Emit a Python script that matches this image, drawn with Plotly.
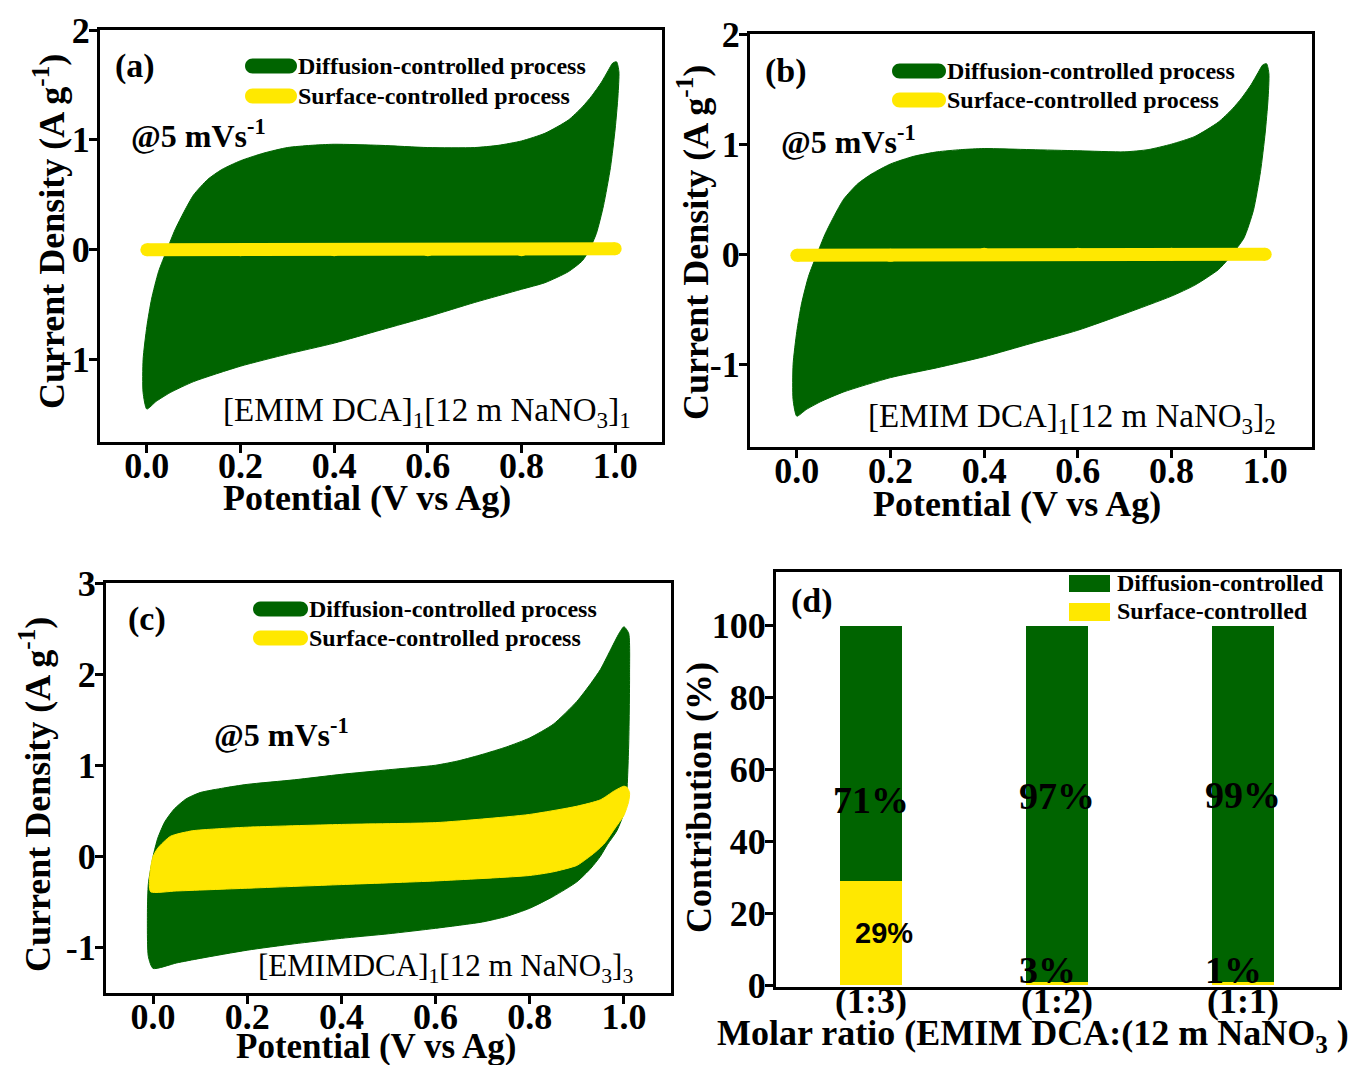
import plotly.graph_objects as go

W, H = 1360, 1065
SERIF = "Liberation Serif, Times New Roman, serif"
SANS = "Liberation Sans, Arial, sans-serif"
GREEN = "#006400"
YELLOW = "#FFE800"

# ---------------- data ----------------
# (a) [EMIM DCA]1[12 m NaNO3]1
a_diff_fwd_v = [0.0, -0.008, -0.008, 0.0, 0.01, 0.025, 0.043, 0.06, 0.08, 0.1, 0.13, 0.16, 0.2, 0.25, 0.3, 0.35, 0.4,
                0.5, 0.6, 0.7, 0.75, 0.8, 0.85, 0.9, 0.93, 0.95, 0.97, 0.985, 0.995, 1.003]
a_diff_fwd_i = [-1.45, -1.3, -1.0, -0.7, -0.45, -0.2, 0.0, 0.18, 0.35, 0.5, 0.64, 0.73, 0.81, 0.88, 0.93, 0.95, 0.96,
                0.95, 0.93, 0.93, 0.95, 0.99, 1.06, 1.18, 1.3, 1.4, 1.52, 1.63, 1.7, 1.71]
a_diff_rev_v = [1.008, 1.006, 1.0, 0.99, 0.975, 0.96, 0.945, 0.93, 0.9, 0.85, 0.8, 0.7, 0.6, 0.5, 0.4, 0.3, 0.2,
                0.1, 0.05, 0.02]
a_diff_rev_i = [1.62, 1.4, 1.1, 0.75, 0.4, 0.15, 0.0, -0.1, -0.2, -0.3, -0.36, -0.48, -0.61, -0.73, -0.85, -0.95,
                -1.06, -1.2, -1.3, -1.38]
a_surf_v = [0.0, 0.2, 0.4, 0.6, 0.8, 1.0]
a_surf_i = [0.0, 0.0, 0.0, 0.0, 0.0, 0.01]

# (b) [EMIM DCA]1[12 m NaNO3]2
b_diff_fwd_v = [0.0, -0.008, -0.008, 0.0, 0.01, 0.025, 0.043, 0.06, 0.08, 0.1, 0.13, 0.16, 0.2, 0.25, 0.3, 0.35, 0.4,
                0.5, 0.6, 0.7, 0.75, 0.8, 0.85, 0.9, 0.93, 0.95, 0.97, 0.985, 0.995, 1.003]
b_diff_fwd_i = [-1.47, -1.32, -1.0, -0.7, -0.45, -0.2, 0.0, 0.18, 0.35, 0.5, 0.64, 0.73, 0.82, 0.89, 0.93, 0.95, 0.96,
                0.95, 0.94, 0.93, 0.95, 1.0, 1.07, 1.2, 1.32, 1.42, 1.54, 1.65, 1.72, 1.73]
b_diff_rev_v = [1.008, 1.006, 1.0, 0.99, 0.975, 0.955, 0.935, 0.92, 0.9, 0.85, 0.8, 0.7, 0.6, 0.5, 0.4, 0.3, 0.2,
                0.1, 0.05, 0.02]
b_diff_rev_i = [1.64, 1.4, 1.1, 0.75, 0.4, 0.15, 0.03, -0.05, -0.14, -0.28, -0.38, -0.54, -0.69, -0.81, -0.93, -1.03,
                -1.12, -1.25, -1.34, -1.41]
b_surf_v = [0.0, 0.2, 0.4, 0.6, 0.8, 1.0]
b_surf_i = [-0.01, -0.01, 0.0, 0.0, 0.0, 0.0]

# (c) [EMIMDCA]1[12 m NaNO3]3
c_diff_fwd_v = [0.0, -0.01, -0.012, -0.01, 0.0, 0.01, 0.025, 0.045, 0.07, 0.1, 0.15, 0.2, 0.3, 0.4, 0.5, 0.6, 0.65,
                0.7, 0.75, 0.8, 0.85, 0.9, 0.93, 0.95, 0.97, 0.99, 1.0]
c_diff_fwd_i = [-1.23, -1.1, -0.6, -0.3, 0.0, 0.2, 0.38, 0.52, 0.63, 0.7, 0.75, 0.79, 0.84, 0.9, 0.95, 1.0, 1.05,
                1.12, 1.2, 1.3, 1.45, 1.7, 1.9, 2.05, 2.25, 2.45, 2.52]
c_diff_rev_v = [1.01, 1.012, 1.01, 1.003, 0.985, 0.965, 0.95, 0.93, 0.9, 0.85, 0.8, 0.75, 0.7, 0.6, 0.5, 0.4, 0.3,
                0.2, 0.1, 0.05]
c_diff_rev_i = [2.45, 2.0, 1.2, 0.53, 0.28, 0.13, 0.0, -0.13, -0.28, -0.44, -0.57, -0.66, -0.72, -0.79, -0.85, -0.9,
                -0.96, -1.03, -1.12, -1.17]
c_surf_fwd_v = [-0.005, -0.008, -0.005, 0.0, 0.01, 0.037, 0.083, 0.13, 0.2, 0.4, 0.6, 0.7, 0.8, 0.9, 0.95, 0.98, 1.0,
                1.006]
c_surf_fwd_i = [-0.39, -0.3, -0.12, 0.0, 0.09, 0.22, 0.28, 0.3, 0.32, 0.35, 0.37, 0.41, 0.46, 0.55, 0.62, 0.72, 0.77,
                0.76]
c_surf_rev_v = [1.012, 1.01, 1.0, 0.98, 0.96, 0.94, 0.92, 0.9, 0.85, 0.8, 0.6, 0.4, 0.2, 0.05]
c_surf_rev_i = [0.7, 0.6, 0.45, 0.3, 0.15, 0.05, -0.03, -0.1, -0.17, -0.21, -0.27, -0.31, -0.35, -0.38]

# (d) contribution bars
ratios = ["(1:3)", "(1:2)", "(1:1)"]
surface_pct = [29, 0.8, 0.8]
diffusion_pct = [71, 99.2, 99.2]
diffusion_labels = ["71%", "97%", "99%"]
surface_labels = ["29%", "3%", "1%"]

cv_ticks = [0.0, 0.2, 0.4, 0.6, 0.8, 1.0]
cv_ticktext = ["0.0", "0.2", "0.4", "0.6", "0.8", "1.0"]
ab_yticks = [-1, 0, 1, 2]
ab_yticktext = ["-1", "0", "1", "2"]
c_yticks = [-1, 0, 1, 2, 3]
c_yticktext = ["-1", "0", "1", "2", "3"]
d_yticks = [0, 20, 40, 60, 80, 100]
d_yticktext = ["0", "20", "40", "60", "80", "100"]


def px(x):
    return x / W


def py(y):
    return 1 - y / H


fig = go.Figure()


def loop(fv, fi, rv, ri):
    return fv + rv + [fv[0]], fi + ri + [fi[0]]


# panel a
x, y = loop(a_diff_fwd_v, a_diff_fwd_i, a_diff_rev_v, a_diff_rev_i)
fig.add_trace(go.Scatter(x=x, y=y, fill="toself", fillcolor=GREEN, mode="lines",
                         line=dict(color=GREEN, width=1, shape="spline", smoothing=0.6),
                         xaxis="x", yaxis="y", name="Diffusion-controlled process", showlegend=False))
fig.add_trace(go.Scatter(x=a_surf_v, y=a_surf_i, mode="lines+markers",
                         line=dict(color=YELLOW, width=13), marker=dict(color=YELLOW, size=13),
                         xaxis="x", yaxis="y", name="Surface-controlled process", showlegend=False))
# panel b
x, y = loop(b_diff_fwd_v, b_diff_fwd_i, b_diff_rev_v, b_diff_rev_i)
fig.add_trace(go.Scatter(x=x, y=y, fill="toself", fillcolor=GREEN, mode="lines",
                         line=dict(color=GREEN, width=1, shape="spline", smoothing=0.6),
                         xaxis="x2", yaxis="y2", name="Diffusion-controlled process", showlegend=False))
fig.add_trace(go.Scatter(x=b_surf_v, y=b_surf_i, mode="lines+markers",
                         line=dict(color=YELLOW, width=13), marker=dict(color=YELLOW, size=13),
                         xaxis="x2", yaxis="y2", name="Surface-controlled process", showlegend=False))
# panel c
x, y = loop(c_diff_fwd_v, c_diff_fwd_i, c_diff_rev_v, c_diff_rev_i)
fig.add_trace(go.Scatter(x=x, y=y, fill="toself", fillcolor=GREEN, mode="lines",
                         line=dict(color=GREEN, width=1, shape="spline", smoothing=0.6),
                         xaxis="x3", yaxis="y3", name="Diffusion-controlled process", showlegend=False))
x, y = loop(c_surf_fwd_v, c_surf_fwd_i, c_surf_rev_v, c_surf_rev_i)
fig.add_trace(go.Scatter(x=x, y=y, fill="toself", fillcolor=YELLOW, mode="lines",
                         line=dict(color=YELLOW, width=1, shape="spline", smoothing=0.6),
                         xaxis="x3", yaxis="y3", name="Surface-controlled process", showlegend=False))
# panel d
fig.add_trace(go.Bar(x=ratios, y=surface_pct, marker=dict(color=YELLOW, line=dict(width=0)), width=0.33,
                     xaxis="x4", yaxis="y4", name="Surface-controlled", showlegend=False))
fig.add_trace(go.Bar(x=ratios, y=diffusion_pct, marker=dict(color=GREEN, line=dict(width=0)), width=0.33,
                     xaxis="x4", yaxis="y4", name="Diffusion-controlled", showlegend=False))

tickfont = dict(family=SERIF, size=36, color="black", weight="bold")
base = dict(showline=True, linewidth=3, linecolor="black", mirror=True, ticks="outside", ticklen=8,
            tickwidth=3, tickcolor="black", showgrid=False, zeroline=False, tickfont=tickfont,
            automargin=False)
xcv = dict(base, range=[-0.1, 1.1], tickvals=cv_ticks, ticktext=cv_ticktext, ticklabelstandoff=-18)
ycv = dict(base, ticklabelstandoff=-8)

fig.update_layout(
    width=W, height=H, margin=dict(l=0, r=0, t=0, b=0, pad=0, autoexpand=False), autosize=False,
    paper_bgcolor="white", plot_bgcolor="white", barmode="stack", showlegend=False,
    xaxis=dict(xcv, domain=[px(100), px(662)], anchor="y"),
    yaxis=dict(ycv, domain=[py(442), py(30)], range=[-1.75, 2], tickvals=ab_yticks, ticktext=ab_yticktext,
               anchor="x"),
    xaxis2=dict(xcv, domain=[px(750), px(1312)], anchor="y2"),
    yaxis2=dict(ycv, domain=[py(447), py(34)], range=[-1.75, 2], tickvals=ab_yticks, ticktext=ab_yticktext,
                anchor="x2"),
    xaxis3=dict(xcv, domain=[px(106), px(671)], anchor="y3"),
    yaxis3=dict(ycv, domain=[py(993), py(583)], range=[-1.5, 3], tickvals=c_yticks, ticktext=c_yticktext,
                anchor="x3"),
    xaxis4=dict(base, domain=[px(776), px(1339)], range=[-0.51, 2.516], type="category", ticks="",
                ticklabelstandoff=-20,
                tickfont=dict(family=SERIF, size=36, color="black", weight="bold"), anchor="y4"),
    yaxis4=dict(ycv, domain=[py(987), py(572)], range=[-0.55, 115], tickvals=d_yticks, ticktext=d_yticktext,
                anchor="x4"),
)

ann = []


def A(text, x, y, size, bold=True, family=SERIF, xanchor="center", yanchor="middle", angle=0):
    ann.append(dict(text=text, x=px(x), y=py(y), xref="paper", yref="paper", showarrow=False,
                    font=dict(family=family, size=size, color="black", weight="bold" if bold else "normal"),
                    xanchor=xanchor, yanchor=yanchor, textangle=angle))


# panel letters
A("(a)", 113, 66, 34, xanchor="left")
A("(b)", 763, 71, 34, xanchor="left")
A("(c)", 126, 619, 34, xanchor="left")
A("(d)", 789, 601, 34, xanchor="left")
# scan rate
A("@5 mVs<sup>-1</sup>", 129, 134, 32, xanchor="left")
A("@5 mVs<sup>-1</sup>", 779, 140, 32, xanchor="left")
A("@5 mVs<sup>-1</sup>", 212, 733, 32, xanchor="left")
# compositions
A("[EMIM DCA]<sub>1</sub>[12 m NaNO<sub>3</sub>]<sub>1</sub>", 633, 412, 33, bold=False, xanchor="right")
A("[EMIM DCA]<sub>1</sub>[12 m NaNO<sub>3</sub>]<sub>2</sub>", 1278, 418, 33, bold=False, xanchor="right")
A("[EMIMDCA]<sub>1</sub>[12 m NaNO<sub>3</sub>]<sub>3</sub>", 635, 968, 31, bold=False, xanchor="right")
# axis titles
A("Current Density (A g<sup>-1</sup>)", 50, 232, 36, angle=-90)
A("Current Density (A g<sup>-1</sup>)", 693, 243, 36, angle=-90)
A("Current Density (A g<sup>-1</sup>)", 35, 795, 36, angle=-90)
A("Contribution (%)", 699, 797, 36, angle=-90)
A("Potential (V vs Ag)", 367, 498, 36)
A("Potential (V vs Ag)", 1017, 504, 36)
A("Potential (V vs Ag)", 376, 1046, 35)
A("Molar ratio (EMIM DCA:(12 m NaNO<sub>3</sub> )", 1033, 1035, 36)
# legends
A("Diffusion-controlled process", 296, 66, 24, xanchor="left")
A("Surface-controlled process", 296, 96, 24, xanchor="left")
A("Diffusion-controlled process", 945, 71, 24, xanchor="left")
A("Surface-controlled process", 945, 100, 24, xanchor="left")
A("Diffusion-controlled process", 307, 609, 24, xanchor="left")
A("Surface-controlled process", 307, 638, 24, xanchor="left")
A("Diffusion-controlled", 1115, 583, 24, xanchor="left")
A("Surface-controlled", 1115, 611, 24, xanchor="left")

# bar value labels (data coordinates)
label_y_diff = [51.5, 52.5, 53]
for i, t in enumerate(diffusion_labels):
    ann.append(dict(text=t, x=i, y=label_y_diff[i], xref="x4", yref="y4", showarrow=False,
                    font=dict(family=SERIF, size=38, color="black", weight="bold")))
ann.append(dict(text=surface_labels[0], x=0.07, y=14.5, xref="x4", yref="y4", showarrow=False,
                font=dict(family=SANS, size=29, color="black", weight="bold")))
for i in (1, 2):
    ann.append(dict(text=surface_labels[i], x=i - 0.05, y=4.2, xref="x4", yref="y4", showarrow=False,
                    font=dict(family=SERIF, size=38, color="black", weight="bold")))

fig.update_layout(annotations=ann)

# legend keys (pills / boxes)
shapes = []


def pill(x0, x1, yc, h, color):
    r = h / 2
    k = 0.5523 * r
    top, bot = yc - r, yc + r
    pts = [
        f"M{px(x0 + r)},{py(top)}",
        f"L{px(x1 - r)},{py(top)}",
        f"C{px(x1 - r + k)},{py(top)} {px(x1)},{py(yc - k)} {px(x1)},{py(yc)}",
        f"C{px(x1)},{py(yc + k)} {px(x1 - r + k)},{py(bot)} {px(x1 - r)},{py(bot)}",
        f"L{px(x0 + r)},{py(bot)}",
        f"C{px(x0 + r - k)},{py(bot)} {px(x0)},{py(yc + k)} {px(x0)},{py(yc)}",
        f"C{px(x0)},{py(yc - k)} {px(x0 + r - k)},{py(top)} {px(x0 + r)},{py(top)} Z",
    ]
    shapes.append(dict(type="path", path=" ".join(pts), xref="paper", yref="paper",
                       fillcolor=color, line=dict(width=0)))


pill(245, 297, 66, 15, GREEN)
pill(245, 297, 96, 15, YELLOW)
pill(892, 946, 71, 15, GREEN)
pill(892, 946, 100, 15, YELLOW)
pill(253, 308, 609, 15, GREEN)
pill(253, 308, 638, 15, YELLOW)
shapes.append(dict(type="rect", xref="paper", yref="paper", x0=px(1069), x1=px(1110), y0=py(592), y1=py(575),
                   fillcolor=GREEN, line=dict(width=0)))
shapes.append(dict(type="rect", xref="paper", yref="paper", x0=px(1069), x1=px(1110), y0=py(621), y1=py(603),
                   fillcolor=YELLOW, line=dict(width=0)))
fig.update_layout(shapes=shapes)

fig.write_html("out.html")
